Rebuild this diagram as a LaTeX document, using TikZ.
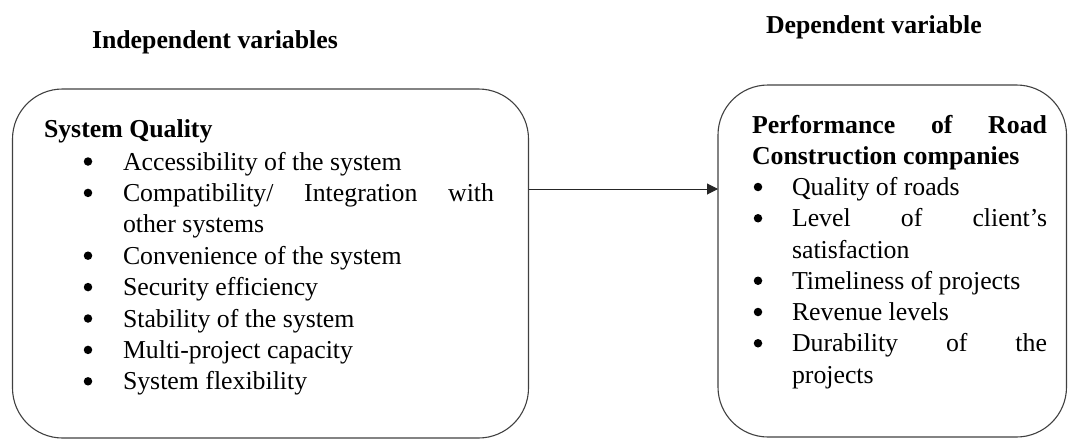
\documentclass[tikz,border=0pt]{standalone}
\usepackage{fontspec}
\setmainfont{Liberation Serif}
\usetikzlibrary{arrows.meta}
\begin{document}
\begin{tikzpicture}[x=1pt,y=-1pt,
  box/.style={draw=black!75, line width=1.1pt, rounded corners=50pt, inner sep=0pt, outer sep=0pt},
  txt/.style={anchor=base west, inner sep=0pt, outer sep=0pt, font=\fontsize{25.8}{31.4}\selectfont},
  btxt/.style={txt, font=\fontsize{25.8}{31.4}\selectfont\bfseries},
  bul/.style={circle, fill=black, inner sep=0pt, outer sep=0pt, minimum size=8.5pt, yshift=8.5pt},
  link/.style={draw=black!85, line width=1pt, -{Triangle[length=11pt,width=11pt]}}]
\useasboundingbox (0,0) rectangle (1068,439);
% titles
\node[btxt] (t1) at (92,48) {Independent variables};
\node[btxt] (t2) at (766,33) {Dependent variable};
% boxes
\node[box, minimum width=516pt, minimum height=349pt] (L) at (270.5,263.5) {};
\node[box, minimum width=348.5pt, minimum height=352pt] (R) at (892.25,261) {};
% left box text
\node[btxt] (lh) at (44,137) {System Quality};
\node[bul] (lb1) at (88,170) {};
\node[txt] (l1) at (123,170) {Accessibility of the system};
\node[bul] (lb2) at (88,201.4) {};
\node[txt] (l2) at (123,201.4) {\hbox to 371pt{Compatibility/\hfill Integration\hfill with}};
\node[txt] (l2b) at (123,232.8) {other systems};
\node[bul] (lb3) at (88,264.2) {};
\node[txt] (l3) at (123,264.2) {Convenience of the system};
\node[bul] (lb4) at (88,295.6) {};
\node[txt] (l4) at (123,295.6) {Security efficiency};
\node[bul] (lb5) at (88,327) {};
\node[txt] (l5) at (123,327) {Stability of the system};
\node[bul] (lb6) at (88,358.4) {};
\node[txt] (l6) at (123,358.4) {Multi-project capacity};
\node[bul] (lb7) at (88,389.8) {};
\node[txt] (l7) at (123,389.8) {System flexibility};
% right box text
\node[btxt] (rh1) at (752,133) {\hbox to 295pt{Performance\hfill of\hfill Road}};
\node[btxt] (rh2) at (752,164.25) {Construction companies};
\node[bul] (rb1) at (758,195.5) {};
\node[txt] (r1) at (792,195.5) {Quality of roads};
\node[bul] (rb2) at (758,226.75) {};
\node[txt] (r2) at (792,226.75) {\hbox to 255pt{Level\hfill of\hfill client’s}};
\node[txt] (r2b) at (792,258) {satisfaction};
\node[bul] (rb3) at (758,289.25) {};
\node[txt] (r3) at (792,289.25) {Timeliness of projects};
\node[bul] (rb4) at (758,320.5) {};
\node[txt] (r4) at (792,320.5) {Revenue levels};
\node[bul] (rb5) at (758,351.75) {};
\node[txt] (r5) at (792,351.75) {\hbox to 255pt{Durability\hfill of\hfill the}};
\node[txt] (r5b) at (792,383) {projects};
% connector
\coordinate (ay) at (0,189);
\draw[link] (L.east |- ay) -- (R.west |- ay);
\end{tikzpicture}
\end{document}
